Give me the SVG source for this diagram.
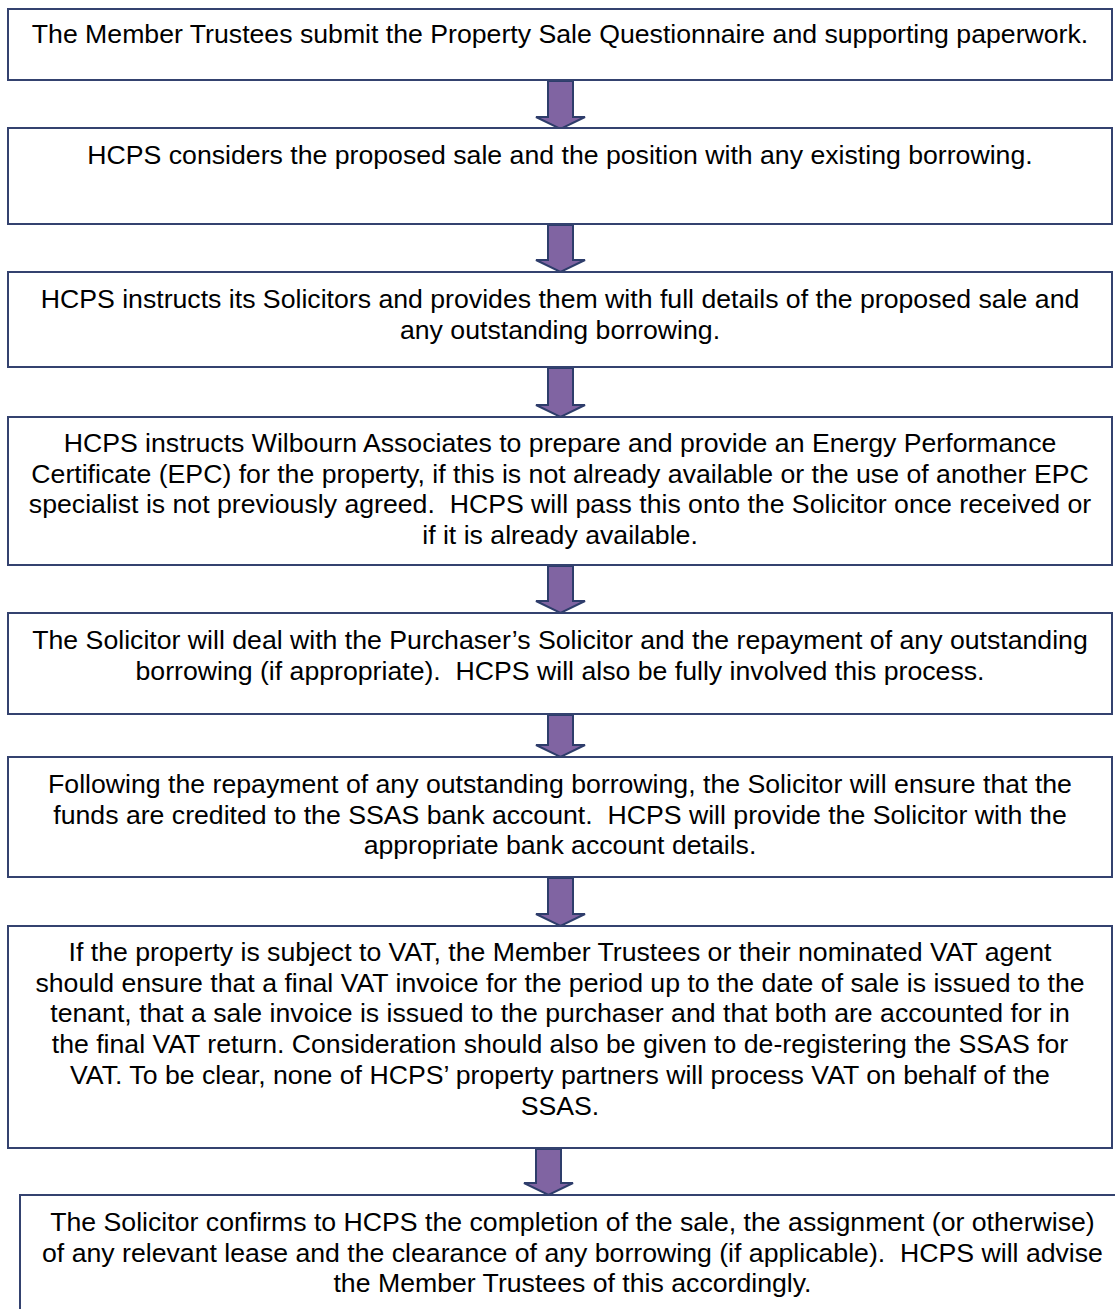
<svg xmlns="http://www.w3.org/2000/svg" width="1115" height="1309" viewBox="0 0 1115 1309">
<style>
.box{fill:#ffffff;stroke:#34426f;stroke-width:2}
.arr{fill:#8064a2;stroke:#2e3d6b;stroke-width:2;stroke-linejoin:miter}
.t{font-family:"Liberation Sans",Arial,sans-serif;font-size:26.67px;fill:#000;text-anchor:middle;white-space:pre}
</style>
<rect width="1115" height="1309" fill="#ffffff"/>
<g id="connectors">
<polygon class="arr" points="548,81 573,81 573,117 585,117 560.5,129 536,117 548,117"/>
<polygon class="arr" points="548,225 573,225 573,260 585,260 560.5,272 536,260 548,260"/>
<polygon class="arr" points="548,368 573,368 573,405 585,405 560.5,417 536,405 548,405"/>
<polygon class="arr" points="548,566 573,566 573,601 585,601 560.5,613 536,601 548,601"/>
<polygon class="arr" points="548,715 573,715 573,745 585,745 560.5,757 536,745 548,745"/>
<polygon class="arr" points="548,878 573,878 573,914 585,914 560.5,926 536,914 548,914"/>
<polygon class="arr" points="536,1149 561,1149 561,1183 573,1183 548.5,1195 524,1183 536,1183"/>
</g>
<g id="node1">
<rect class="box" x="8" y="9" width="1104" height="71"/>
<text class="t" x="560" y="43">The Member Trustees submit the Property Sale Questionnaire and supporting paperwork.</text>
</g>
<g id="node2">
<rect class="box" x="8" y="128" width="1104" height="96"/>
<text class="t" x="560" y="164">HCPS considers the proposed sale and the position with any existing borrowing.</text>
</g>
<g id="node3">
<rect class="box" x="8" y="272" width="1104" height="95"/>
<text class="t" x="560" y="308">HCPS instructs its Solicitors and provides them with full details of the proposed sale and</text>
<text class="t" x="560" y="338.7">any outstanding borrowing.</text>
</g>
<g id="node4">
<rect class="box" x="8" y="417" width="1104" height="148"/>
<text class="t" x="560" y="452">HCPS instructs Wilbourn Associates to prepare and provide an Energy Performance</text>
<text class="t" x="560" y="482.7">Certificate (EPC) for the property, if this is not already available or the use of another EPC</text>
<text class="t" x="560" y="513.4">specialist is not previously agreed.  HCPS will pass this onto the Solicitor once received or</text>
<text class="t" x="560" y="544.1">if it is already available.</text>
</g>
<g id="node5">
<rect class="box" x="8" y="613" width="1104" height="101"/>
<text class="t" x="560" y="649">The Solicitor will deal with the Purchaser’s Solicitor and the repayment of any outstanding</text>
<text class="t" x="560" y="679.7">borrowing (if appropriate).  HCPS will also be fully involved this process.</text>
</g>
<g id="node6">
<rect class="box" x="8" y="757" width="1104" height="120"/>
<text class="t" x="560" y="793">Following the repayment of any outstanding borrowing, the Solicitor will ensure that the</text>
<text class="t" x="560" y="823.7">funds are credited to the SSAS bank account.  HCPS will provide the Solicitor with the</text>
<text class="t" x="560" y="854.4">appropriate bank account details.</text>
</g>
<g id="node7">
<rect class="box" x="8" y="926" width="1104" height="222"/>
<text class="t" x="560" y="961">If the property is subject to VAT, the Member Trustees or their nominated VAT agent</text>
<text class="t" x="560" y="991.7">should ensure that a final VAT invoice for the period up to the date of sale is issued to the</text>
<text class="t" x="560" y="1022.4">tenant, that a sale invoice is issued to the purchaser and that both are accounted for in</text>
<text class="t" x="560" y="1053.1">the final VAT return. Consideration should also be given to de-registering the SSAS for</text>
<text class="t" x="560" y="1083.8">VAT. To be clear, none of HCPS’ property partners will process VAT on behalf of the</text>
<text class="t" x="560" y="1114.5">SSAS.</text>
</g>
<g id="node8">
<rect class="box" x="20" y="1195" width="1110" height="130"/>
<text class="t" x="572.5" y="1231">The Solicitor confirms to HCPS the completion of the sale, the assignment (or otherwise)</text>
<text class="t" x="572.5" y="1261.7">of any relevant lease and the clearance of any borrowing (if applicable).  HCPS will advise</text>
<text class="t" x="572.5" y="1292.4">the Member Trustees of this accordingly.</text>
</g>
</svg>
